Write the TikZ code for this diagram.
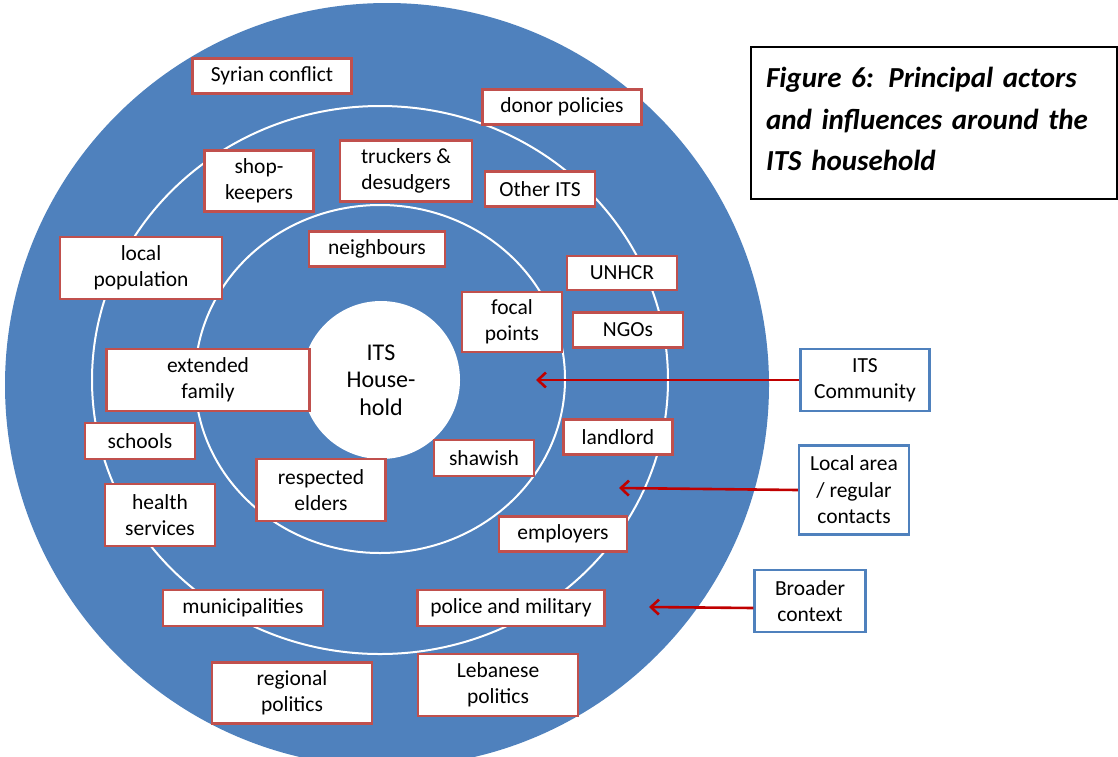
\documentclass[tikz,border=0pt]{standalone}
\usepackage{fontspec}
\setmainfont{Carlito}
\usetikzlibrary{arrows.meta, positioning}
\definecolor{ringblue}{RGB}{79,129,189}
\definecolor{boxred}{RGB}{192,80,77}
\definecolor{arrowred}{RGB}{192,0,0}

\begin{document}
\begin{tikzpicture}[x=1pt, y=-1pt]
    \tikzstyle{actor}=[draw=boxred, fill=white, line width=2.2pt, align=center
    , inner sep=0pt, font=\fontsize{21.5}{26.5}\selectfont]
    \tikzstyle{level}=[actor, draw=ringblue]
    \tikzstyle{ring}=[draw=white, line width=2pt]
    \useasboundingbox (0,0) rectangle (1118,756);
    \clip (0,0) rectangle (1118,756);

    % rings
    \fill[ringblue] (387,385) circle[radius=382pt];
    \draw[ring] (380,380) ellipse[x radius=288pt, y radius=274pt];
    \draw[ring] (380,379) ellipse[x radius=185pt, y radius=174pt];
    \node[circle, fill=white, minimum size=158pt, inner sep=0pt, align=center
    , font=\fontsize{24}{27.5}\selectfont] (house) at (381,380) {ITS\\House-\\hold};

    % actors
    \node[actor, minimum width=159pt, minimum height=35pt] (syria) at (272,76) {Syrian conflict};
    \node[actor, minimum width=159pt, minimum height=35pt] (donor) at (562,107) {donor policies};
    \node[actor, minimum width=109pt, minimum height=61pt] (shop) at (259,181) {shop-\\keepers};
    \node[actor, minimum width=132pt, minimum height=61pt] (truck) at (406,171) {truckers \&\\desudgers};
    \node[actor, minimum width=110pt, minimum height=35pt] (otherits) at (540,189) {Other ITS};
    \node[actor, minimum width=136pt, minimum height=35pt] (neigh) at (377,249) {neighbours};
    \node[actor, minimum width=162pt, minimum height=62pt] (localpop) at (141,268) {local\\population};
    \node[actor, minimum width=110pt, minimum height=34pt] (unhcr) at (622,273) {UNHCR};
    \node[actor, minimum width=100pt, minimum height=60pt] (focal) at (512,322) {focal\\points};
    \node[actor, minimum width=110pt, minimum height=35pt] (ngos) at (628,330) {NGOs};
    \node[actor, minimum width=203pt, minimum height=62pt] (family) at (208,380) {extended\\family};
    \node[actor, minimum width=110pt, minimum height=36pt] (schools) at (140,441) {schools};
    \node[actor, minimum width=110pt, minimum height=62pt] (health) at (160,515) {health\\services};
    \node[actor, minimum width=129pt, minimum height=62pt] (elders) at (321,490) {respected\\elders};
    \node[actor, minimum width=100pt, minimum height=36pt] (shawish) at (484,458) {shawish};
    \node[actor, minimum width=109pt, minimum height=35pt] (landlord) at (618,437) {landlord};
    \node[actor, minimum width=128pt, minimum height=35pt] (employers) at (563,534) {employers};
    \node[actor, minimum width=160pt, minimum height=36pt] (munic) at (243,608) {municipalities};
    \node[actor, minimum width=187pt, minimum height=36pt] (police) at (511,608) {police and military};
    \node[actor, minimum width=160pt, minimum height=61pt] (regional) at (292,693) {regional\\politics};
    \node[actor, minimum width=160pt, minimum height=62pt] (lebanese) at (498,685) {Lebanese\\politics};

    % levels
    \node[level, minimum width=129pt, minimum height=62pt] (comm) at (865,380) {ITS\\Community};
    \node[level, minimum width=110pt, minimum height=89pt] (localarea) at (854,490) {Local area\\/ regular\\contacts};
    \node[level, minimum width=111pt, minimum height=62pt] (broad) at (810,601) {Broader\\context};

    \node[draw=black, line width=1.5pt, fill=white, minimum width=366pt, minimum height=152pt
    , text width=336pt, align=left, inner sep=0pt
    , font=\fontsize{29}{41.5}\bfseries\itshape] (title) at (934,123)
    {Figure 6: Principal actors\\and influences around the\\ITS household\vspace*{8pt}};

    % arrows
    \coordinate (tipcomm) at (536,380);
    \coordinate (tiplocal) at (619,488);
    \coordinate (tipbroad) at (649,607);
    \tikzstyle{pointer}=[draw=arrowred, line width=2.6pt, -{Straight Barb[length=8pt, width=15pt]}]
    \draw[pointer] (comm.west) -- (tipcomm);
    \draw[pointer] (localarea.west) -- (tiplocal);
    \draw[pointer] ([yshift=-7pt]broad.west) -- (tipbroad);

\end{tikzpicture}
\end{document}
